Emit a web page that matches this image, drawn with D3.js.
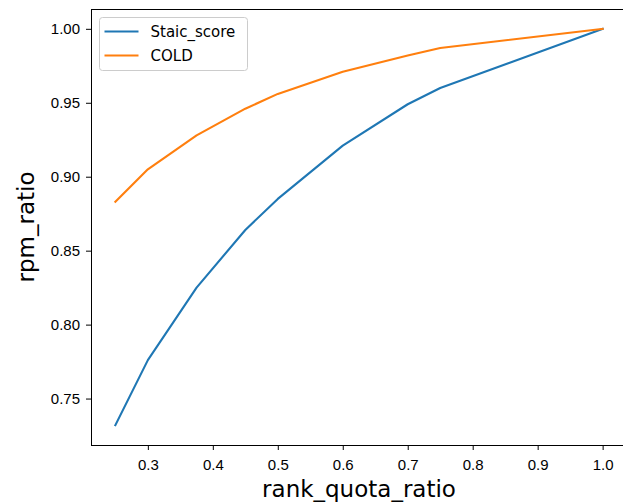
<!DOCTYPE html>
<html>
<head>
<meta charset="utf-8">
<script src="https://cdn.jsdelivr.net/npm/d3@7"></script>
<style>
  body { margin: 0; background: #fff; }
  svg { display: block; font-family: "DejaVu Sans", sans-serif; }
  .tick text { font-size: 15px; fill: #000; }
</style>
</head>
<body>
<div id="chart"></div>
<script>
// quota ratios on the x axis
var quota = [0.25, 0.3, 0.375, 0.45, 0.5, 0.6, 0.7, 0.75, 1.0];
// rpm ratio per method
var staicScore = [0.732, 0.776, 0.825, 0.864, 0.885, 0.921, 0.949, 0.960, 1.0];
var cold = [0.883, 0.905, 0.928, 0.946, 0.956, 0.971, 0.982, 0.987, 1.0];
var seriesNames = ["Staic_score", "COLD"];
var seriesColors = ["#1f77b4", "#ff7f0e"];
var xTicks = [0.3, 0.4, 0.5, 0.6, 0.7, 0.8, 0.9, 1.0];
var yTicks = [0.75, 0.80, 0.85, 0.90, 0.95, 1.00];

var width = 623, height = 503;
var margin = {left: 91, top: 9, right: -4, bottom: 58};

var svg = d3.select("#chart").append("svg")
    .attr("width", width)
    .attr("height", height);

var x = d3.scaleLinear()
    .domain([0.2125, 1.0375])
    .range([margin.left, width - margin.right]);

var y = d3.scaleLinear()
    .domain([0.7186, 1.0134])
    .range([height - margin.bottom, margin.top]);

// axes
var xAxis = svg.append("g")
    .attr("transform", "translate(0," + (height - margin.bottom) + ")")
    .call(d3.axisBottom(x).tickValues(xTicks).tickFormat(d3.format(".1f"))
        .tickSize(5).tickPadding(9));

var yAxis = svg.append("g")
    .attr("transform", "translate(" + margin.left + ",0)")
    .call(d3.axisLeft(y).tickValues(yTicks).tickFormat(d3.format(".2f"))
        .tickSize(5).tickPadding(6));

xAxis.select(".domain").remove();
yAxis.select(".domain").remove();
svg.selectAll(".tick line").attr("stroke", "#000").attr("stroke-width", 1);

// spines
svg.append("rect")
    .attr("x", x.range()[0] + 0.5)
    .attr("y", y.range()[1] + 0.5)
    .attr("width", x.range()[1] - x.range()[0])
    .attr("height", y.range()[0] - y.range()[1])
    .attr("fill", "none")
    .attr("stroke", "#000")
    .attr("stroke-width", 1);

// lines
var line = d3.line()
    .x(function(d, i) { return x(quota[i]); })
    .y(function(d) { return y(d); });

[staicScore, cold].forEach(function(s, i) {
    svg.append("path")
        .datum(s)
        .attr("d", line)
        .attr("fill", "none")
        .attr("stroke", seriesColors[i])
        .attr("stroke-width", 2.1)
        .attr("stroke-linejoin", "round")
        .attr("stroke-linecap", "square");
});

// axis labels
svg.append("text")
    .attr("x", (margin.left + width - margin.right) / 2)
    .attr("y", 497)
    .attr("text-anchor", "middle")
    .style("font-size", "23px")
    .text("rank_quota_ratio");

svg.append("text")
    .attr("transform", "translate(34," + ((margin.top + height - margin.bottom) / 2) + ") rotate(-90)")
    .attr("text-anchor", "middle")
    .style("font-size", "23px")
    .text("rpm_ratio");

// legend
var legend = svg.append("g").attr("transform", "translate(99.5,17.5)");
legend.append("rect")
    .attr("width", 148)
    .attr("height", 53)
    .attr("rx", 3)
    .attr("fill", "#fff")
    .attr("fill-opacity", 0.8)
    .attr("stroke", "#ccc")
    .attr("stroke-width", 1);

seriesNames.forEach(function(name, i) {
    var ly = 14 + i * 24;
    legend.append("line")
        .attr("x1", 5).attr("x2", 39)
        .attr("y1", ly).attr("y2", ly)
        .attr("stroke", seriesColors[i])
        .attr("stroke-width", 2.1);
    legend.append("text")
        .attr("x", 51)
        .attr("y", ly + 5.5)
        .style("font-size", "15px")
        .text(name);
});
</script>
</body>
</html>
